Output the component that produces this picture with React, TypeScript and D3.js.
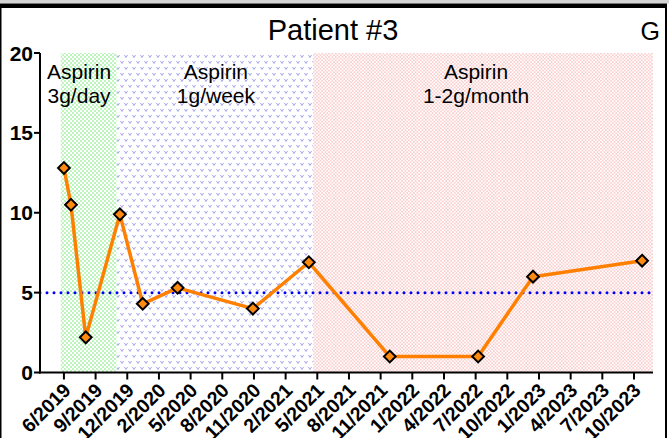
import React from "react";
import * as d3 from "d3";

// Days since first visit (6/2019) and measured values
const visitDays = [0, 20, 62, 159, 224, 323, 537, 696, 926, 1177, 1333, 1643];
const values = [12.8, 10.5, 2.2, 9.9, 4.3, 5.3, 4.0, 6.9, 1.0, 1.0, 6.0, 7.0];

const tickDays = [0, 90, 180, 270, 360, 450, 540, 630, 720, 810, 900, 990, 1080, 1170, 1260, 1350, 1440, 1530, 1620];
const tickLabels = ["6/2019", "9/2019", "12/2019", "2/2020", "5/2020", "8/2020", "11/2020", "2/2021", "5/2021", "8/2021", "11/2021", "1/2022", "4/2022", "7/2022", "10/2022", "1/2023", "4/2023", "7/2023", "10/2023"];
const yTicks = [0, 5, 10, 15, 20];

const phaseStart = [-9, 150, 708];
const phaseEnd = [150, 708, 1674];
const phaseLine1 = ["Aspirin", "Aspirin", "Aspirin"];
const phaseLine2 = ["3g/day", "1g/week", "1-2g/month"];
const phaseLabelDay = [43, 432, 1171];
const phasePattern = ["pGreen", "pBlue", "pRed"];

const referenceValue = 5;
const title = "Patient #3";
const panelLetter = "G";

const FONT = "'Liberation Sans', Arial, Helvetica, sans-serif";

export default function App() {
  const W = 669, H = 438;
  const x = d3.scaleLinear().domain([-68, 1674]).range([40, 653]);
  const y = d3.scaleLinear().domain([0, 20]).range([372.5, 53]);
  const line = d3.line<number>().x((_, i) => x(visitDays[i])).y((v) => y(v));
  const diamond = d3.symbol().type(d3.symbolDiamond2).size(88)();

  return (
    <svg width={W} height={H} style={{ position: "absolute", left: 0, top: 0, background: "#fff" }}>
      <defs>
        <pattern id="pGreen" width={4} height={4} patternUnits="userSpaceOnUse">
          <rect width={4} height={4} fill="#fff" />
          <circle cx={1} cy={1} r={0.7} fill="#45e645" />
          <circle cx={3} cy={3} r={0.7} fill="#45e645" />
        </pattern>
        <pattern id="pBlue" width={8} height={12} patternUnits="userSpaceOnUse">
          <rect width={8} height={12} fill="#fff" />
          <path d="M0.5,1 L2,3.5 L3.5,1" fill="none" stroke="#a4a4ee" strokeWidth={1} />
          <path d="M4.5,7 L6,9.5 L7.5,7" fill="none" stroke="#a4a4ee" strokeWidth={1} />
        </pattern>
        <pattern id="pRed" width={3.4} height={3.4} patternUnits="userSpaceOnUse">
          <rect width={3.4} height={3.4} fill="#fff" />
          <circle cx={0.85} cy={0.85} r={0.6} fill="#f47c7c" />
          <circle cx={2.55} cy={2.55} r={0.6} fill="#f47c7c" />
        </pattern>
      </defs>

      {/* frame */}
      <rect x={0} y={0} width={W} height={3.5} fill="#d4d4d4" />
      <rect x={0} y={3.5} width={667} height={4.5} fill="#000" />
      <rect x={0} y={8} width={1.5} height={H - 8} fill="#000" />
      <rect x={665} y={8} width={2} height={H - 8} fill="#000" />

      {/* shaded phases */}
      {phaseStart.map((s, i) => (
        <rect key={"ph" + i} x={x(s)} y={y(20)} width={x(phaseEnd[i]) - x(s)} height={y(0) - y(20)} fill={`url(#${phasePattern[i]})`} />
      ))}

      {phaseLine1.map((t, i) => (
        <text key={"pl" + i} x={x(phaseLabelDay[i])} fontFamily={FONT} fontSize={21} textAnchor="middle" fill="#000">
          <tspan x={x(phaseLabelDay[i])} y={79}>{t}</tspan>
          <tspan x={x(phaseLabelDay[i])} y={103}>{phaseLine2[i]}</tspan>
        </text>
      ))}

      {/* reference line */}
      <line x1={x.range()[0]} x2={x.range()[1]} y1={y(referenceValue)} y2={y(referenceValue)} stroke="#0000ff" strokeWidth={3} strokeDasharray="0 7" strokeLinecap="round" />

      {/* data line */}
      <path d={line(values) || ""} fill="none" stroke="#ff8000" strokeWidth={3.5} strokeLinejoin="round" />
      {values.map((v, i) => (
        <path key={"m" + i} d={diamond || ""} transform={`translate(${x(visitDays[i])},${y(v)})`} fill="#ff8a10" stroke="#000" strokeWidth={2} />
      ))}

      {/* axes */}
      <line x1={40} x2={40} y1={y(20)} y2={y(0) + 1} stroke="#000" strokeWidth={2} />
      <line x1={39} x2={x.range()[1]} y1={y(0)} y2={y(0)} stroke="#000" strokeWidth={2} />
      {yTicks.map((t) => (
        <g key={"yt" + t}>
          <line x1={34} x2={40} y1={y(t)} y2={y(t)} stroke="#000" strokeWidth={2} />
          <text x={33} y={y(t)} dy="0.36em" textAnchor="end" fontFamily={FONT} fontWeight="bold" fontSize={21}>{t}</text>
        </g>
      ))}
      {tickDays.map((d, i) => (
        <g key={"xt" + i}>
          <line x1={x(d)} x2={x(d)} y1={y(0)} y2={y(0) + 7} stroke="#000" strokeWidth={2} />
          <text transform={`translate(${x(d) + 8},${y(0) + 19}) rotate(-45)`} textAnchor="end" fontFamily={FONT} fontWeight="bold" fontSize={19.5}>{tickLabels[i]}</text>
        </g>
      ))}

      {/* title */}
      <text x={333} y={40} textAnchor="middle" fontFamily={FONT} fontSize={29}>{title}</text>
      <text x={660} y={40} textAnchor="end" fontFamily={FONT} fontSize={25}>{panelLetter}</text>
    </svg>
  );
}
